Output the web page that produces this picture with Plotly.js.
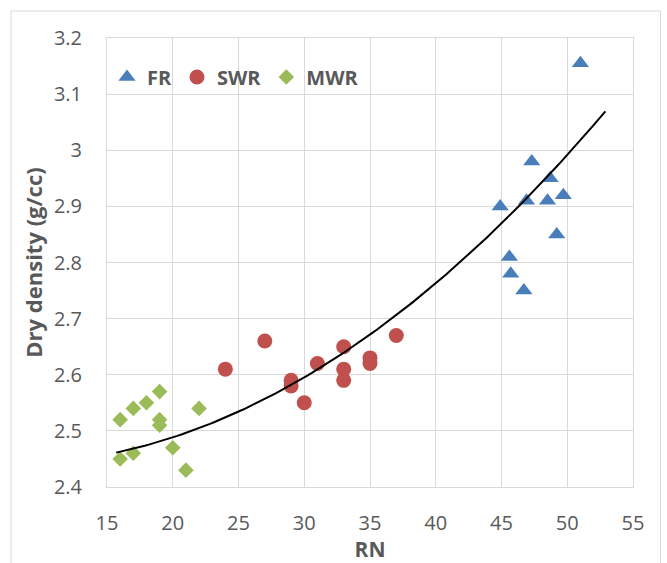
<!DOCTYPE html>
<html>
<head>
<meta charset="utf-8">
<script src="https://cdn.plot.ly/plotly-3.0.1.min.js"></script>
<style>
  html, body { margin: 0; padding: 0; background: #ffffff; }
  #chart { width: 667px; height: 563px; }
</style>
</head>
<body>
<div id="chart"></div>
<script>
// ---- Data ----
const frRN = [51, 47.3, 48.7, 46.9, 48.5, 49.7, 44.9, 49.2, 45.6, 45.7, 46.7];
const frDensity = [3.155, 2.98, 2.95, 2.91, 2.91, 2.92, 2.90, 2.85, 2.81, 2.78, 2.75];

const swrRN = [24, 27, 29, 29, 30, 31, 33, 33, 33, 35, 35, 37];
const swrDensity = [2.61, 2.66, 2.59, 2.58, 2.55, 2.62, 2.65, 2.61, 2.59, 2.63, 2.62, 2.67];

const mwrRN = [16, 17, 18, 19, 19, 19, 16, 17, 20, 21, 22];
const mwrDensity = [2.52, 2.54, 2.55, 2.57, 2.52, 2.51, 2.45, 2.46, 2.47, 2.43, 2.54];

// Trendline positions as drawn in the reference
const trendRN = [15.7, 20, 25, 30, 35, 40, 45, 50, 52.9];
const trendDensity = [2.456, 2.494, 2.538, 2.597, 2.664, 2.760, 2.872, 2.998, 3.065];

const seriesNames = ["FR", "SWR", "MWR"];
const xTickVals = [15, 20, 25, 30, 35, 40, 45, 50, 55];
const xTickText = ["15", "20", "25", "30", "35", "40", "45", "50", "55"];
const yTickVals = [2.4, 2.5, 2.6, 2.7, 2.8, 2.9, 3.0, 3.1, 3.2];
const yTickText = ["2.4", "2.5", "2.6", "2.7", "2.8", "2.9", "3", "3.1", "3.2"];
const xTitle = "RN";
const yTitle = "Dry density (g/cc)";

// Smooth the read trendline with a 2nd-order polynomial (as Excel's "Poly." trendline)
function quadFit(xs, ys) {
  let S = [0,0,0,0,0], T = [0,0,0];
  for (let i = 0; i < xs.length; i++) {
    let p = 1;
    for (let k = 0; k < 5; k++) { S[k] += p; if (k < 3) T[k] += p * ys[i]; p *= xs[i]; }
  }
  const A = [[S[0],S[1],S[2],T[0]],[S[1],S[2],S[3],T[1]],[S[2],S[3],S[4],T[2]]];
  for (let c = 0; c < 3; c++) {
    let piv = c;
    for (let r = c+1; r < 3; r++) if (Math.abs(A[r][c]) > Math.abs(A[piv][c])) piv = r;
    [A[c], A[piv]] = [A[piv], A[c]];
    for (let r = 0; r < 3; r++) {
      if (r === c) continue;
      const f = A[r][c] / A[c][c];
      for (let k = c; k < 4; k++) A[r][k] -= f * A[c][k];
    }
  }
  return [A[0][3]/A[0][0], A[1][3]/A[1][1], A[2][3]/A[2][2]];
}
const coef = quadFit(trendRN, trendDensity);
const tMin = trendRN[0], tMax = trendRN[trendRN.length - 1];
const lineX = [], lineY = [];
for (let i = 0; i <= 120; i++) {
  const x = tMin + (tMax - tMin) * i / 120;
  lineX.push(x);
  lineY.push(coef[0] + coef[1] * x + coef[2] * x * x);
}

const textColor = "#595959";
const gridColor = "#d9d9d9";
const fontFam = "'Open Sans', 'DejaVu Sans', sans-serif";

const traces = [
  { x: frRN, y: frDensity, name: seriesNames[0], mode: "markers", type: "scatter",
    marker: { symbol: "triangle-up", size: 15, color: "#4a7ebb" } },
  { x: swrRN, y: swrDensity, name: seriesNames[1], mode: "markers", type: "scatter",
    marker: { symbol: "circle", size: 15, color: "#c0504d" } },
  { x: mwrRN, y: mwrDensity, name: seriesNames[2], mode: "markers", type: "scatter",
    marker: { symbol: "diamond", size: 12, color: "#9bbb59" } },
  { x: lineX, y: lineY, name: "Poly. trend", mode: "lines", type: "scatter",
    line: { color: "#000000", width: 2 },
    showlegend: false, hoverinfo: "skip" }
];

const L = 107, R = 633, T = 38, B = 487, W = 667, H = 563;
const pw = R - L, ph = B - T;

const layout = {
  width: W, height: H,
  margin: { l: L, r: W - R, t: T, b: H - B, pad: 0 },
  paper_bgcolor: "#ffffff",
  plot_bgcolor: "#ffffff",
  font: { family: fontFam, color: textColor, size: 20 },
  showlegend: true,
  legend: {
    orientation: "h", x: 0.0, xanchor: "left", y: (B - 77) / ph, yanchor: "middle",
    font: { family: fontFam, size: 20, color: textColor, weight: "bold" },
    bgcolor: "rgba(0,0,0,0)", itemwidth: 30, tracegroupgap: 0
  },
  xaxis: {
    range: [15, 55], tickvals: xTickVals, ticktext: xTickText,
    showgrid: true, gridcolor: gridColor, gridwidth: 1,
    showline: true, linecolor: gridColor, linewidth: 1, mirror: true,
    zeroline: false, ticks: "", ticklabelstandoff: 18,
    tickfont: { family: fontFam, size: 20, color: textColor },
    title: { text: xTitle, standoff: 10, font: { family: fontFam, size: 21, color: textColor, weight: "bold" } }
  },
  yaxis: {
    range: [2.4, 3.2], tickvals: yTickVals, ticktext: yTickText,
    showgrid: true, gridcolor: gridColor, gridwidth: 1,
    showline: true, linecolor: gridColor, linewidth: 1, mirror: true,
    zeroline: false, ticks: "", ticklabelstandoff: 20,
    tickfont: { family: fontFam, size: 20, color: textColor },
    title: { text: yTitle, standoff: 5, font: { family: fontFam, size: 22, color: textColor, weight: "bold" } }
  },
  shapes: [{
    type: "rect", xref: "paper", yref: "paper",
    x0: (11 - L) / pw, x1: (660.5 - L) / pw,
    y0: (B - 570) / ph, y1: (B - 11) / ph,
    line: { color: gridColor, width: 1 }, fillcolor: "rgba(0,0,0,0)", layer: "below"
  }]
};

Plotly.newPlot("chart", traces, layout, { displayModeBar: false, staticPlot: true });
</script>
</body>
</html>
